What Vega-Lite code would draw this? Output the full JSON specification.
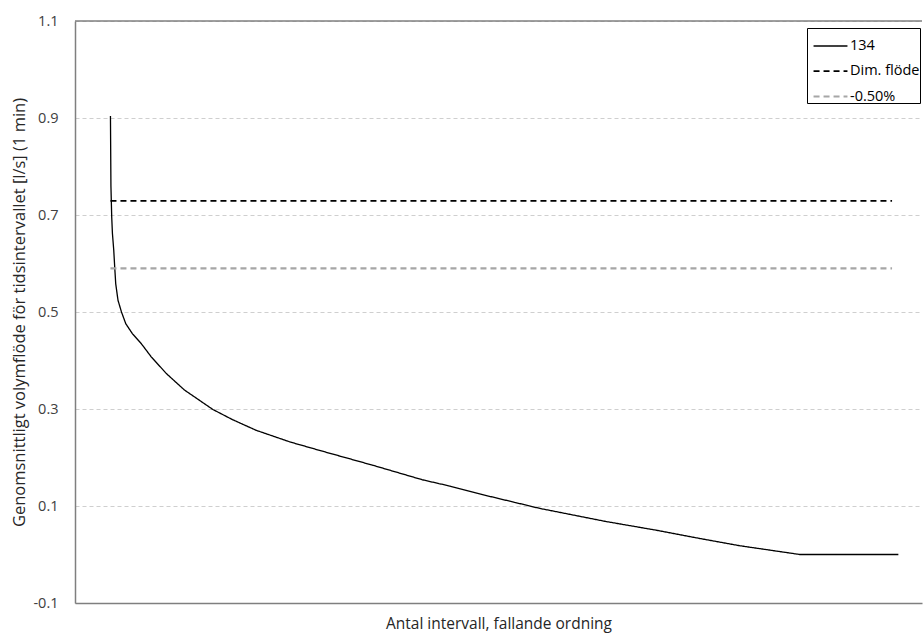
{
  "$schema": "https://vega.github.io/schema/vega-lite/v6.json",
  "width": 847,
  "height": 582,
  "autosize": {"type": "none"},
  "padding": {"left": 75, "top": 21, "right": 1, "bottom": 34},
  "background": "white",
  "config": {
    "view": {"stroke": null},
    "font": "Open Sans",
    "axisY": {"grid": true, "gridColor": "#cfcfcf", "gridDash": [4, 3], "gridWidth": 1}
  },
  "datasets": {
    "lines": [
      {"n": 0, "v": 0.904, "serie": "134"},
      {"n": 0.6, "v": 0.76, "serie": "134"},
      {"n": 1.6, "v": 0.696, "serie": "134"},
      {"n": 2.5, "v": 0.662, "serie": "134"},
      {"n": 4.2, "v": 0.627, "serie": "134"},
      {"n": 5.5, "v": 0.59, "serie": "134"},
      {"n": 6.7, "v": 0.558, "serie": "134"},
      {"n": 9.6, "v": 0.524, "serie": "134"},
      {"n": 14, "v": 0.5, "serie": "134"},
      {"n": 19.4, "v": 0.476, "serie": "134"},
      {"n": 28, "v": 0.455, "serie": "134"},
      {"n": 39, "v": 0.435, "serie": "134"},
      {"n": 52, "v": 0.407, "serie": "134"},
      {"n": 71, "v": 0.373, "serie": "134"},
      {"n": 94, "v": 0.339, "serie": "134"},
      {"n": 112, "v": 0.319, "serie": "134"},
      {"n": 130, "v": 0.299, "serie": "134"},
      {"n": 155, "v": 0.278, "serie": "134"},
      {"n": 185, "v": 0.256, "serie": "134"},
      {"n": 228, "v": 0.232, "serie": "134"},
      {"n": 269, "v": 0.213, "serie": "134"},
      {"n": 333, "v": 0.184, "serie": "134"},
      {"n": 396, "v": 0.154, "serie": "134"},
      {"n": 431, "v": 0.141, "serie": "134"},
      {"n": 481, "v": 0.12, "serie": "134"},
      {"n": 545, "v": 0.095, "serie": "134"},
      {"n": 629, "v": 0.068, "serie": "134"},
      {"n": 693, "v": 0.05, "serie": "134"},
      {"n": 748, "v": 0.033, "serie": "134"},
      {"n": 799, "v": 0.018, "serie": "134"},
      {"n": 875, "v": 0.0, "serie": "134"},
      {"n": 1000, "v": 0.0, "serie": "134"},
      {"n": 0, "v": 0.729, "serie": "Dim. flöde"},
      {"n": 992, "v": 0.729, "serie": "Dim. flöde"},
      {"n": 0, "v": 0.59, "serie": "-0.50%"},
      {"n": 992, "v": 0.59, "serie": "-0.50%"}
    ]
  },
  "layer": [
    {
      "data": {"values": [{}]},
      "mark": {"type": "rule", "color": "#7f7f7f", "strokeWidth": 1.5},
      "encoding": {"y": {"datum": 1.1, "type": "quantitative"}}
    },
    {
      "data": {"name": "lines"},
      "mark": {"type": "line"},
      "encoding": {
        "x": {
          "field": "n",
          "type": "quantitative",
          "scale": {"domain": [-45, 1030], "nice": false, "zero": false},
          "axis": {
            "labels": false,
            "ticks": false,
            "grid": false,
            "domainColor": "#7f7f7f",
            "domainWidth": 1.5,
            "title": "Antal intervall, fallande ordning",
            "titleFont": "Open Sans",
            "titleFontSize": 15.5,
            "titleFontWeight": "normal",
            "titleColor": "#262626",
            "titlePadding": 13
          }
        },
        "y": {
          "field": "v",
          "type": "quantitative",
          "scale": {"domain": [-0.1, 1.1], "nice": false, "zero": false},
          "axis": {
            "values": [-0.1, 0.1, 0.3, 0.5, 0.7, 0.9, 1.1],
            "format": ".1f",
            "labelExpr": "replace(datum.label, '\u2212', '-')",
            "ticks": false,
            "labelPadding": 17,
            "labelFont": "Open Sans",
            "labelFontSize": 14.5,
            "labelColor": "#404040",
            "domainColor": "#7f7f7f",
            "domainWidth": 1.5,
            "grid": true,
            "gridColor": "#cfcfcf",
            "gridDash": [4, 3],
            "gridWidth": 1,
            "title": "Genomsnittligt volymflöde för tidsintervallet [l/s] (1 min)",
            "titleFont": "Open Sans",
            "titleFontSize": 16.5,
            "titleFontWeight": "normal",
            "titleColor": "#262626",
            "titlePadding": 5
          }
        },
        "color": {
          "field": "serie",
          "type": "nominal",
          "scale": {"domain": ["134", "Dim. flöde", "-0.50%"], "range": ["#000000", "#000000", "#a6a6a6"]},
          "legend": {
            "title": null,
            "orient": "none",
            "legendX": 732,
            "legendY": 7,
            "symbolType": "stroke",
            "symbolSize": 1150,
            "symbolOffset": 5,
            "labelFont": "Open Sans",
            "labelFontSize": 14.5,
            "labelColor": "#000000",
            "labelOffset": 1,
            "rowPadding": -4,
            "padding": 0,
            "fillColor": "white",
            "strokeColor": "#000000",
            "cornerRadius": 0
          }
        },
        "strokeDash": {
          "field": "serie",
          "type": "nominal",
          "scale": {"domain": ["134", "Dim. flöde", "-0.50%"], "range": [[1, 0], [6, 4], [6, 4]]},
          "legend": null
        },
        "strokeWidth": {
          "field": "serie",
          "type": "nominal",
          "scale": {"domain": ["134", "Dim. flöde", "-0.50%"], "range": [1.3, 2.2, 1.6]},
          "legend": null
        }
      }
    }
  ]
}
